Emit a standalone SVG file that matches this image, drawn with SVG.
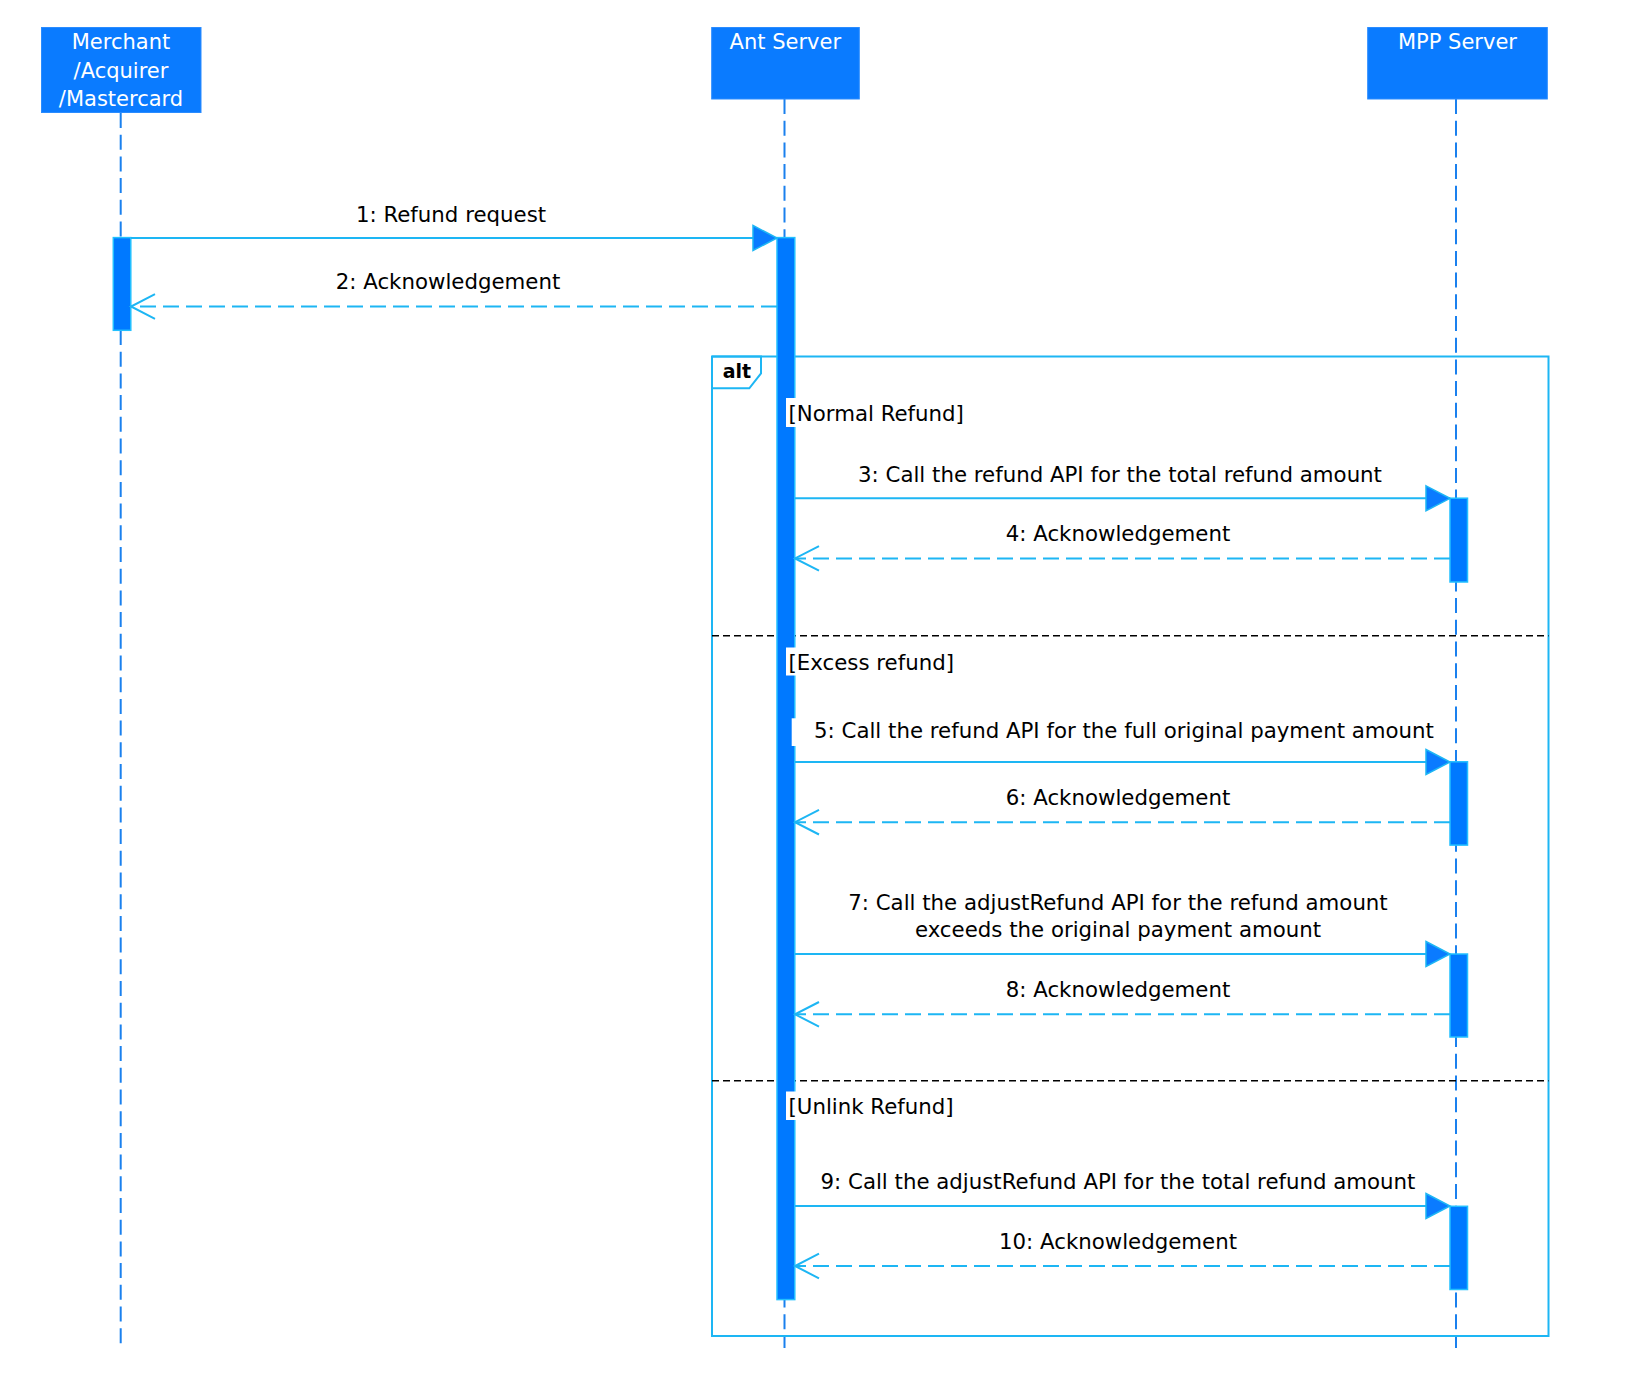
<svg xmlns="http://www.w3.org/2000/svg" width="1634" height="1382" viewBox="0 0 1634 1382">
<style>
  .box { fill: #0a7bff; stroke: #2a8cff; stroke-width: 1; }
  .hdr { font-family: "DejaVu Sans", sans-serif; font-size: 21px; fill: #ffffff; text-anchor: middle; }
  .life { stroke: #1a80ee; stroke-width: 2; stroke-dasharray: 15 6.7; fill: none; }
  .act { fill: #0079ff; stroke: #22c0ff; stroke-width: 1.5; }
  .msg { stroke: #1db6f4; stroke-width: 2; fill: none; }
  .ret { stroke: #1db6f4; stroke-width: 2; fill: none; stroke-dasharray: 16 7; }
  .lbl { font-family: "DejaVu Sans", sans-serif; font-size: 21.3px; fill: #000000; text-anchor: middle; }
  .grd { font-family: "DejaVu Sans", sans-serif; font-size: 21.3px; fill: #000000; }
  .frame { fill: none; stroke: #1db6f4; stroke-width: 2; }
  .div { stroke: #000000; stroke-width: 1.5; stroke-dasharray: 7 4; fill: none; }
  .bg { fill: #ffffff; }
</style>
<defs>
  <marker id="solidHead" markerUnits="userSpaceOnUse" viewBox="-1 -1 26 27" refX="24" refY="12.5" markerWidth="26" markerHeight="27" orient="auto" overflow="visible">
    <path d="M0,0 L24,12.5 L0,25 Z" fill="#0a7bff" stroke="#1db6f4" stroke-width="1.5" stroke-dasharray="none"/>
  </marker>
  <marker id="openHead" markerUnits="userSpaceOnUse" viewBox="-1 -1 26 27" refX="24" refY="12.3" markerWidth="26" markerHeight="27" orient="auto" overflow="visible">
    <path d="M0,0 L24,12.3 L0,24.6" fill="none" stroke="#1db6f4" stroke-width="2" stroke-dasharray="none"/>
  </marker>
</defs>

<g id="lifelines">
  <line class="life" x1="120.7" y1="113" x2="120.7" y2="1348"/>
  <line class="life" x1="784.5" y1="99" x2="784.5" y2="1348"/>
  <line class="life" x1="1456" y1="99" x2="1456" y2="1348"/>
</g>

<g id="merchant">
  <rect class="box" x="41.5" y="27.5" width="159.5" height="85"/>
  <text class="hdr" x="121" y="49.3">Merchant</text>
  <text class="hdr" x="121" y="77.7">/Acquirer</text>
  <text class="hdr" x="121" y="106">/Mastercard</text>
</g>
<g id="ant-server">
  <rect class="box" x="711.7" y="27.5" width="147.6" height="71.5"/>
  <text class="hdr" x="785.3" y="49.3">Ant Server</text>
</g>
<g id="mpp-server">
  <rect class="box" x="1367.7" y="27.5" width="179.6" height="71.5"/>
  <text class="hdr" x="1457.5" y="49.3">MPP Server</text>
</g>

<g id="alt-frame">
  <rect class="frame" x="712" y="356.5" width="836.5" height="979.5"/>
  <path class="frame" d="M712,356.5 H761 V373.3 L749.3,388.3 H712"/>
  <text x="722.7" y="377.7" font-family="DejaVu Sans, sans-serif" font-size="19" font-weight="bold" fill="#000">alt</text>
  <line class="div" x1="712" y1="635.7" x2="1548.5" y2="635.7"/>
  <line class="div" x1="712" y1="1080.7" x2="1548.5" y2="1080.7"/>
</g>

<g id="activations">
  <rect class="act" x="113.3" y="237.6" width="17.5" height="92.7"/>
  <rect class="act" x="777" y="237.6" width="17.8" height="1062"/>
  <rect class="act" x="1450" y="498.2" width="17.5" height="83.8"/>
  <rect class="act" x="1450" y="761.8" width="17.5" height="83.3"/>
  <rect class="act" x="1450" y="954" width="17.5" height="83"/>
  <rect class="act" x="1450" y="1206.3" width="17.5" height="83.2"/>
</g>

<g id="guards">
  <rect class="bg" x="786" y="398" width="178" height="29"/>
  <text class="grd" x="788.5" y="421">[Normal Refund]</text>
  <rect class="bg" x="786" y="647.5" width="168" height="28"/>
  <text class="grd" x="788.5" y="669.5">[Excess refund]</text>
  <rect class="bg" x="786" y="1091.5" width="170" height="28.5"/>
  <text class="grd" x="788.5" y="1113.5">[Unlink Refund]</text>
</g>

<g id="connectors">
  <line class="msg" x1="131" y1="238" x2="777" y2="238" marker-end="url(#solidHead)"/>
  <text class="lbl" x="451" y="222">1: Refund request</text>

  <line class="ret" x1="777" y1="306.5" x2="131" y2="306.5" marker-end="url(#openHead)"/>
  <text class="lbl" x="448" y="289.3">2: Acknowledgement</text>

  <line class="msg" x1="795" y1="498.3" x2="1450" y2="498.3" marker-end="url(#solidHead)"/>
  <text class="lbl" x="1120" y="481.7">3: Call the refund API for the total refund amount</text>

  <line class="ret" x1="1450" y1="558.4" x2="795" y2="558.4" marker-end="url(#openHead)"/>
  <text class="lbl" x="1118" y="540.7">4: Acknowledgement</text>

  <rect class="bg" x="791.7" y="718.3" width="650" height="27.7"/>
  <text class="lbl" x="1124" y="738.3">5: Call the refund API for the full original payment amount</text>
  <line class="msg" x1="795" y1="762" x2="1450" y2="762" marker-end="url(#solidHead)"/>

  <line class="ret" x1="1450" y1="822.2" x2="795" y2="822.2" marker-end="url(#openHead)"/>
  <text class="lbl" x="1118" y="804.8">6: Acknowledgement</text>

  <line class="msg" x1="795" y1="954" x2="1450" y2="954" marker-end="url(#solidHead)"/>
  <text class="lbl" x="1118" y="910">7: Call the adjustRefund API for the refund amount</text>
  <text class="lbl" x="1118" y="937.3">exceeds the original payment amount</text>

  <line class="ret" x1="1450" y1="1014.3" x2="795" y2="1014.3" marker-end="url(#openHead)"/>
  <text class="lbl" x="1118" y="996.7">8: Acknowledgement</text>

  <line class="msg" x1="795" y1="1206" x2="1450" y2="1206" marker-end="url(#solidHead)"/>
  <text class="lbl" x="1118" y="1189.3">9: Call the adjustRefund API for the total refund amount</text>

  <line class="ret" x1="1450" y1="1266" x2="795" y2="1266" marker-end="url(#openHead)"/>
  <text class="lbl" x="1118" y="1249.3">10: Acknowledgement</text>
</g>
</svg>
